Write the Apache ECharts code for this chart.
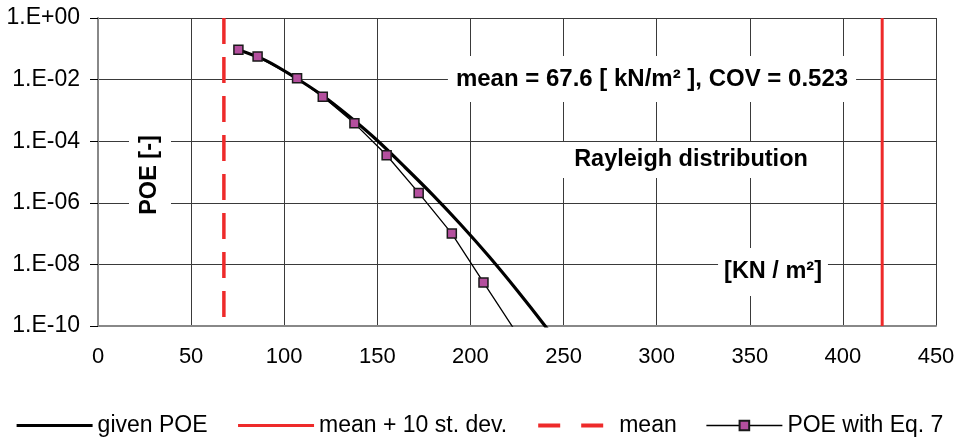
<!DOCTYPE html>
<html>
<head>
<meta charset="utf-8">
<script src="https://cdn.jsdelivr.net/npm/echarts@6/dist/echarts.min.js"></script>
<style>
  html, body { margin: 0; padding: 0; background: #fff; }
  #chart { width: 961px; height: 441px; }
</style>
</head>
<body>
<div id="chart"></div>
<script>
// Exceedance probability (POE) of the load, log scale
const givenX = [75.4, 90, 105, 120, 135, 150, 165, 180, 195, 210, 225, 240, 255];
const givenY = [9.3e-2, 4.2e-2, 1.26e-2, 3.2e-3, 6.3e-4, 1.05e-4, 1.4e-5, 1.74e-6, 1.9e-7, 1.8e-8, 1.45e-9, 1.02e-10, 6.3e-12];

const eqX = [75.4, 85.7, 106.9, 120.7, 137.7, 155.0, 172.2, 190.0, 207.0, 224.0];
const eqY = [9.3e-2, 5.6e-2, 1.1e-2, 2.8e-3, 3.8e-4, 3.5e-5, 2.1e-6, 1.0e-7, 2.6e-9, 7.0e-11];

const meanX = [67.6, 67.6];
const meanPlus10sdX = [421.1, 421.1];
const verticalY = [1, 1e-10];

const xTicks = [0, 50, 100, 150, 200, 250, 300, 350, 400, 450];

const FONT = '"Liberation Sans", Arial, sans-serif';
const zip = (xs, ys) => xs.map((x, i) => [x, ys[i]]);

const eqData = zip(eqX, eqY).map((p, i, a) =>
  i === a.length - 1 ? { value: p, symbol: 'none' } : p);

const hiddenSymbol = { opacity: 0, borderWidth: 0 };

const chart = echarts.init(document.getElementById('chart'), null, { renderer: 'canvas' });

chart.setOption({
  animation: false,
  backgroundColor: '#fff',
  grid: { left: 98, right: 25, top: 18, bottom: 115 },
  xAxis: {
    type: 'value',
    min: xTicks[0],
    max: xTicks[xTicks.length - 1],
    interval: 50,
    axisLine: { show: true, onZero: false, lineStyle: { color: '#888', width: 2 } },
    axisTick: { show: false },
    axisLabel: { color: '#000', fontSize: 22, fontFamily: FONT, margin: 20 },
    splitLine: { show: true, lineStyle: { color: '#3a3a3a', width: 1 } }
  },
  yAxis: {
    type: 'log',
    logBase: 10,
    min: 1e-10,
    max: 1,
    interval: 2,
    axisLine: { show: true, lineStyle: { color: '#888', width: 2 } },
    axisTick: { show: true, length: 8, lineStyle: { color: '#000', width: 1 } },
    axisLabel: {
      color: '#000', fontSize: 23, fontFamily: FONT, margin: 18,
      formatter: v => {
        const e = Math.round(Math.log10(v));
        return '1.E' + (e < 0 ? '-' : '+') + String(Math.abs(e)).padStart(2, '0');
      }
    },
    splitLine: { show: true, lineStyle: { color: '#3a3a3a', width: 1 } }
  },
  legend: {
    left: 15,
    top: 414,
    padding: 0,
    itemWidth: 76,
    itemHeight: 12,
    itemGap: 29,
    textStyle: { color: '#000', fontSize: 23, fontFamily: FONT },
    data: [
      { name: 'given POE', itemStyle: hiddenSymbol, lineStyle: { width: 3.2 } },
      { name: 'mean + 10 st. dev.', itemStyle: hiddenSymbol, lineStyle: { width: 3 } },
      { name: 'mean', itemStyle: hiddenSymbol, lineStyle: { type: [22, 21], width: 4 } },
      { name: 'POE with Eq. 7', lineStyle: { width: 1.3 } }
    ]
  },
  series: [
    {
      name: 'given POE',
      type: 'line',
      symbol: 'none',
      smooth: 0.3,
      data: zip(givenX, givenY),
      lineStyle: { color: '#000', width: 3.2 },
      itemStyle: { color: '#000' },
      z: 3
    },
    {
      name: 'mean + 10 st. dev.',
      type: 'line',
      symbol: 'none',
      data: zip(meanPlus10sdX, verticalY),
      lineStyle: { color: '#ee2a2a', width: 3 },
      itemStyle: { color: '#ee2a2a' },
      z: 2
    },
    {
      name: 'mean',
      type: 'line',
      symbol: 'none',
      data: zip(meanX, verticalY),
      lineStyle: { color: '#ee2a2a', width: 3.5, type: [26, 13] },
      itemStyle: { color: '#ee2a2a' },
      z: 2
    },
    {
      name: 'POE with Eq. 7',
      type: 'line',
      symbol: 'rect',
      symbolSize: 9,
      data: eqData,
      lineStyle: { color: '#000', width: 1.3 },
      itemStyle: { color: '#b44f9e', borderColor: '#1a1a1a', borderWidth: 1.5 },
      z: 4
    }
  ],
  graphic: [
    {
      type: 'text', x: 652, y: 79, z: 10,
      style: {
        text: 'mean = 67.6 [ kN/m² ], COV = 0.523',
        font: 'bold 24px ' + FONT, fill: '#000',
        align: 'center', verticalAlign: 'middle', lineHeight: 24,
        backgroundColor: '#fff', padding: [11, 8, 11, 8]
      }
    },
    {
      type: 'text', x: 691, y: 160, z: 10,
      style: {
        text: 'Rayleigh distribution',
        font: 'bold 23.5px ' + FONT, fill: '#000',
        align: 'center', verticalAlign: 'middle', lineHeight: 24,
        backgroundColor: '#fff', padding: [6, 16, 6, 16]
      }
    },
    {
      type: 'text', x: 773, y: 272, z: 10,
      style: {
        text: '[KN / m²]',
        font: 'bold 23.5px ' + FONT, fill: '#000',
        align: 'center', verticalAlign: 'middle', lineHeight: 24,
        backgroundColor: '#fff', padding: [12, 6, 12, 6]
      }
    },
    {
      type: 'text', x: 150, y: 175, z: 10, rotation: Math.PI / 2,
      style: {
        text: 'POE [-]',
        font: 'bold 23.5px ' + FONT, fill: '#000',
        align: 'center', verticalAlign: 'middle', lineHeight: 24,
        backgroundColor: '#fff', padding: [9, 12, 9, 12]
      }
    }
  ]
});
</script>
</body>
</html>
